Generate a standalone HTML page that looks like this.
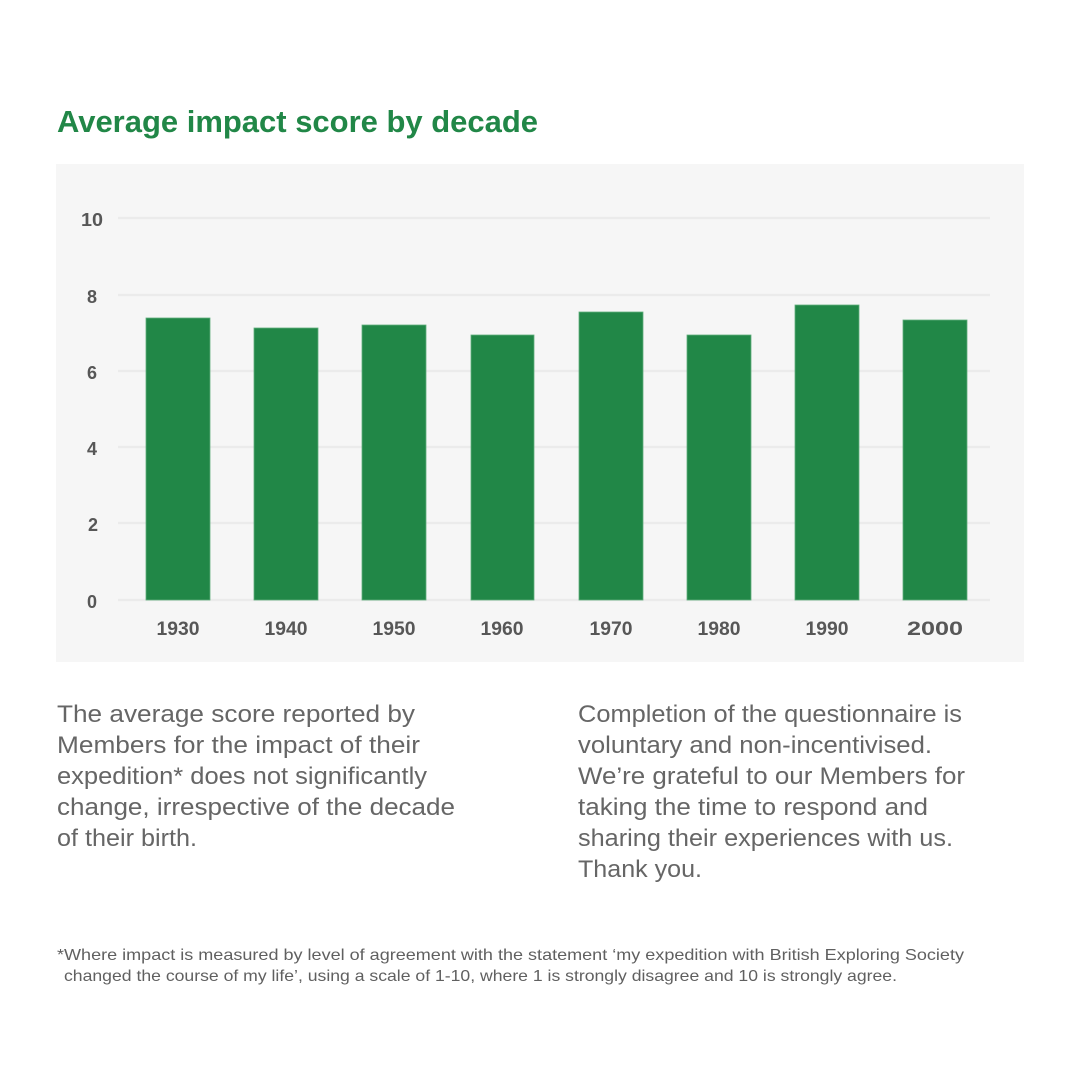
<!DOCTYPE html>
<html>
<head>
<meta charset="utf-8">
<style>
html,body{margin:0;padding:0;background:#fff;}
svg{display:block;}
text{font-family:"Liberation Sans",sans-serif;}
</style>
</head>
<body>
<svg width="1080" height="1080" viewBox="0 0 1080 1080" xmlns="http://www.w3.org/2000/svg">
<rect x="0" y="0" width="1080" height="1080" fill="#ffffff"/>
<text x="57" y="132" font-size="31" font-weight="bold" fill="#218747" textLength="481" lengthAdjust="spacingAndGlyphs">Average impact score by decade</text>

<rect x="56" y="164" width="968" height="498" fill="#f6f6f6"/>

<g stroke="#ebebeb" stroke-width="2.5">
<line x1="118" y1="218" x2="990" y2="218"/>
<line x1="118" y1="295" x2="990" y2="295"/>
<line x1="118" y1="371" x2="990" y2="371"/>
<line x1="118" y1="447" x2="990" y2="447"/>
<line x1="118" y1="523" x2="990" y2="523"/>
<line x1="118" y1="600" x2="990" y2="600"/>
</g>

<g font-size="18" font-weight="bold" fill="#575757" text-anchor="middle">
<text x="92" y="226" textLength="22" lengthAdjust="spacingAndGlyphs">10</text>
<text x="92" y="303">8</text>
<text x="92" y="379">6</text>
<text x="92" y="455">4</text>
<text x="93" y="531">2</text>
<text x="92" y="608">0</text>
</g>

<g fill="#218747" stroke="#5fae7c" stroke-width="0.8">
<rect x="146" y="318" width="64" height="282"/>
<rect x="254" y="328" width="64" height="272"/>
<rect x="362" y="325" width="64" height="275"/>
<rect x="471" y="335" width="63" height="265"/>
<rect x="579" y="312" width="64" height="288"/>
<rect x="687" y="335" width="64" height="265"/>
<rect x="795" y="305" width="64" height="295"/>
<rect x="903" y="320" width="64" height="280"/>
</g>

<g font-size="19" font-weight="bold" fill="#575757" text-anchor="middle">
<text x="178" y="635" textLength="43" lengthAdjust="spacingAndGlyphs">1930</text>
<text x="286" y="635" textLength="43" lengthAdjust="spacingAndGlyphs">1940</text>
<text x="394" y="635" textLength="43" lengthAdjust="spacingAndGlyphs">1950</text>
<text x="502" y="635" textLength="43" lengthAdjust="spacingAndGlyphs">1960</text>
<text x="611" y="635" textLength="43" lengthAdjust="spacingAndGlyphs">1970</text>
<text x="719" y="635" textLength="43" lengthAdjust="spacingAndGlyphs">1980</text>
<text x="827" y="635" textLength="43" lengthAdjust="spacingAndGlyphs">1990</text>
<text x="935" y="635" textLength="56" lengthAdjust="spacingAndGlyphs">2000</text>
</g>

<g font-size="24" fill="#666666">
<text x="57" y="722" textLength="358" lengthAdjust="spacingAndGlyphs">The average score reported by</text>
<text x="57" y="753" textLength="363" lengthAdjust="spacingAndGlyphs">Members for the impact of their</text>
<text x="57" y="784" textLength="370" lengthAdjust="spacingAndGlyphs">expedition* does not significantly</text>
<text x="57" y="815" textLength="398" lengthAdjust="spacingAndGlyphs">change, irrespective of the decade</text>
<text x="57" y="846" textLength="140" lengthAdjust="spacingAndGlyphs">of their birth.</text>

<text x="578" y="722" textLength="384" lengthAdjust="spacingAndGlyphs">Completion of the questionnaire is</text>
<text x="578" y="753" textLength="354" lengthAdjust="spacingAndGlyphs">voluntary and non-incentivised.</text>
<text x="578" y="784" textLength="387" lengthAdjust="spacingAndGlyphs">We’re grateful to our Members for</text>
<text x="578" y="815" textLength="350" lengthAdjust="spacingAndGlyphs">taking the time to respond and</text>
<text x="578" y="846" textLength="375" lengthAdjust="spacingAndGlyphs">sharing their experiences with us.</text>
<text x="578" y="877" textLength="124" lengthAdjust="spacingAndGlyphs">Thank you.</text>
</g>

<g font-size="16" fill="#606060">
<text x="57" y="960" textLength="907" lengthAdjust="spacingAndGlyphs">*Where impact is measured by level of agreement with the statement ‘my expedition with British Exploring Society</text>
<text x="64" y="981" textLength="833" lengthAdjust="spacingAndGlyphs">changed the course of my life’, using a scale of 1-10, where 1 is strongly disagree and 10 is strongly agree.</text>
</g>
</svg>
</body>
</html>
